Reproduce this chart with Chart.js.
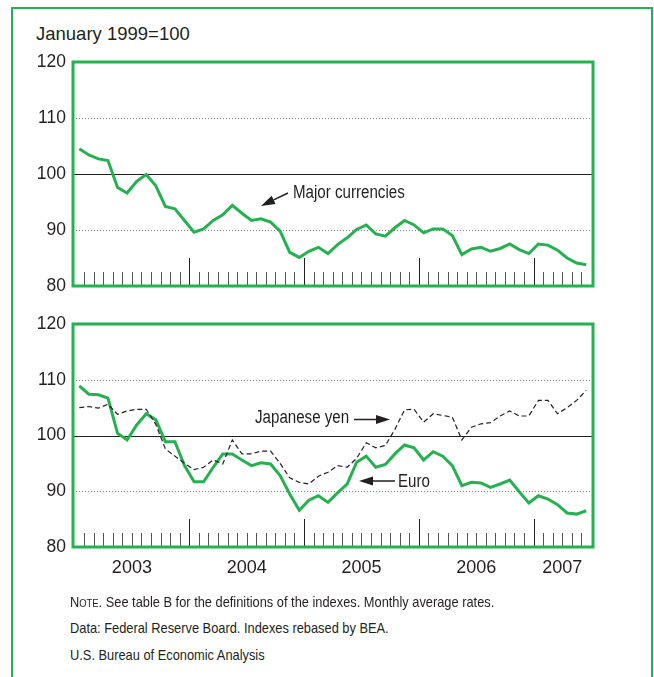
<!DOCTYPE html>
<html>
<head>
<meta charset="utf-8">
<script src="https://cdn.jsdelivr.net/npm/chart.js@4.4.0/dist/chart.umd.min.js"></script>
<style>
  html, body { margin: 0; padding: 0; background: #fff; }
  #page { position: relative; width: 654px; height: 677px; overflow: hidden; font-family: "Liberation Sans", Arial, sans-serif; color: #231f20; }
  #frame { position: absolute; left: 11px; top: 7px; width: 638px; height: 700px; border: 2px solid #25b150; border-bottom: none; }
  #title { position: absolute; left: 36px; top: 25px; font-size: 18.5px; line-height: 18px; white-space: nowrap; }
  .note { position: absolute; left: 70px; font-size: 15px; line-height: 15px; white-space: nowrap; transform: scaleX(0.855); transform-origin: 0 0; }
  .sc { font-variant: small-caps; }
  canvas { position: absolute; left: 0; }
</style>
</head>
<body>
<div id="page">
  <div id="frame"></div>
  <div id="title">January 1999=100</div>
  <canvas id="topChart" width="654" height="266" style="top:40px"></canvas>
  <canvas id="bottomChart" width="654" height="290" style="top:300px"></canvas>
  <div class="note" style="top:594px"><span class="sc">Note</span>. See table B for the definitions of the indexes. Monthly average rates.</div>
  <div class="note" style="top:620px">Data: Federal Reserve Board. Indexes rebased by BEA.</div>
  <div class="note" style="top:647px">U.S. Bureau of Economic Analysis</div>
</div>
<script>
// monthly averages, January 1999=100
const months = [
  'Jan 2003','Feb 2003','Mar 2003','Apr 2003','May 2003','Jun 2003','Jul 2003','Aug 2003','Sep 2003','Oct 2003','Nov 2003','Dec 2003',
  'Jan 2004','Feb 2004','Mar 2004','Apr 2004','May 2004','Jun 2004','Jul 2004','Aug 2004','Sep 2004','Oct 2004','Nov 2004','Dec 2004',
  'Jan 2005','Feb 2005','Mar 2005','Apr 2005','May 2005','Jun 2005','Jul 2005','Aug 2005','Sep 2005','Oct 2005','Nov 2005','Dec 2005',
  'Jan 2006','Feb 2006','Mar 2006','Apr 2006','May 2006','Jun 2006','Jul 2006','Aug 2006','Sep 2006','Oct 2006','Nov 2006','Dec 2006',
  'Jan 2007','Feb 2007','Mar 2007','Apr 2007','May 2007','Jun 2007'
];
const majorCurrencies = [
  104.5, 103.4, 102.7, 102.4, 97.6, 96.6, 98.7, 99.9, 97.9, 94.2, 93.8, 91.7,
  89.6, 90.2, 91.7, 92.7, 94.4, 93.0, 91.7, 92.0, 91.4, 89.8, 86.0, 85.1,
  86.2, 86.9, 85.8, 87.4, 88.6, 90.1, 90.9, 89.3, 88.9, 90.4, 91.7, 90.9,
  89.5, 90.2, 90.2, 89.0, 85.6, 86.6, 86.9, 86.2, 86.7, 87.5, 86.5, 85.8,
  87.5, 87.3, 86.4, 85.0, 84.1, 83.8
];
const euro = [
  108.9, 107.4, 107.3, 106.7, 100.4, 99.2, 101.9, 103.9, 102.8, 98.9, 98.9, 94.6,
  91.7, 91.7, 94.3, 96.7, 96.7, 95.6, 94.6, 95.1, 94.9, 92.8, 89.5, 86.6,
  88.4, 89.2, 88.0, 89.7, 91.3, 95.2, 96.3, 94.3, 94.8, 96.7, 98.3, 97.8,
  95.6, 97.1, 96.3, 94.6, 91.0, 91.6, 91.5, 90.7, 91.3, 92.0, 89.9, 87.9,
  89.2, 88.6, 87.6, 86.1, 85.9, 86.5
];
const japaneseYen = [
  105.0, 105.2, 104.9, 105.6, 103.8, 104.4, 104.7, 104.7, 102.0, 97.6, 96.3, 95.0,
  93.9, 94.3, 95.6, 94.9, 99.2, 96.7, 96.7, 97.2, 97.2, 95.0, 92.4, 91.6,
  91.3, 92.7, 93.4, 94.6, 94.3, 95.9, 98.7, 97.8, 98.2, 101.1, 104.6, 104.7,
  102.4, 103.9, 103.6, 103.3, 99.2, 101.5, 102.1, 102.3, 103.5, 104.4, 103.5, 103.5,
  106.3, 106.3, 103.9, 105.0, 106.3, 108.1
];
const yTicks = [80, 90, 100, 110, 120];
const dottedLevels = [90, 110];
const baseLevel = 100;

const GREEN = '#25b150';
const INK = '#231f20';
const REGULAR = '"Liberation Sans", Arial, sans-serif';

Chart.defaults.font.family = REGULAR;
Chart.defaults.color = INK;

function arrow(ctx, x1, y1, x2, y2) {
    const ang = Math.atan2(y2 - y1, x2 - x1);
    const len = 14, half = 4.5;
    const bx = x2 - Math.cos(ang) * len, by = y2 - Math.sin(ang) * len;
    ctx.lineWidth = 1.5;
    ctx.beginPath();
    ctx.moveTo(x1, y1);
    ctx.lineTo(bx, by);
    ctx.stroke();
    ctx.beginPath();
    ctx.moveTo(x2, y2);
    ctx.lineTo(bx - Math.sin(ang) * half, by + Math.cos(ang) * half);
    ctx.lineTo(bx + Math.sin(ang) * half, by - Math.cos(ang) * half);
    ctx.closePath();
    ctx.fill();
}

// reference lines, month ticks, green plot frame, year labels and callouts
const panelDecor = {
    id: 'panelDecor',
    beforeDatasetsDraw(chart) {
        const { ctx, chartArea: a, scales: { x, y } } = chart;
        ctx.save();
        ctx.lineWidth = 1;
        ctx.strokeStyle = '#808080';
        ctx.setLineDash([1, 2]);
        dottedLevels.forEach(v => {
            const py = Math.round(y.getPixelForValue(v)) + 0.5;
            ctx.beginPath();
            ctx.moveTo(a.left - 1.5, py);
            ctx.lineTo(a.right + 2, py);
            ctx.stroke();
        });
        ctx.setLineDash([]);
        ctx.strokeStyle = INK;
        const pb = Math.round(y.getPixelForValue(baseLevel)) + 0.5;
        ctx.beginPath();
        ctx.moveTo(a.left - 1.5, pb);
        ctx.lineTo(a.right + 2, pb);
        ctx.stroke();

        for (let i = 1; i < months.length; i++) {
            const bx = Math.round((x.getPixelForValue(i - 1) + x.getPixelForValue(i)) / 2) + 0.5;
            const isYear = months[i].startsWith('Jan');
            ctx.strokeStyle = isYear ? INK : '#555';
            ctx.beginPath();
            ctx.moveTo(bx, a.bottom);
            ctx.lineTo(bx, a.bottom - (isYear ? 28 : 14));
            ctx.stroke();
        }
        ctx.restore();
    },
    afterDatasetsDraw(chart, args, opts) {
        const { ctx, chartArea: a, scales: { x } } = chart;
        ctx.save();
        ctx.strokeStyle = GREEN;
        ctx.lineWidth = 3;
        ctx.strokeRect(a.left - 1.5, a.top, a.width + 3.5, a.height);

        if (opts.years) {
            ctx.font = '18px ' + REGULAR;
            ctx.fillStyle = INK;
            ctx.textAlign = 'center';
            ctx.textBaseline = 'alphabetic';
            const years = [...new Set(months.map(m => m.slice(4)))];
            years.forEach(yr => {
                const idx = months.map((m, i) => m.endsWith(yr) ? i : -1).filter(i => i >= 0);
                const cx = (x.getPixelForValue(idx[0]) + x.getPixelForValue(idx[idx.length - 1])) / 2;
                ctx.fillText(yr, cx, a.bottom + 26);
            });
        }

        (opts.callouts || []).forEach(c => {
            ctx.fillStyle = INK;
            ctx.strokeStyle = INK;
            // condensed face is not installed, so squeeze the regular one
            ctx.save();
            ctx.font = '18px ' + REGULAR;
            ctx.textAlign = 'left';
            ctx.textBaseline = 'alphabetic';
            ctx.translate(c.tx, c.ty);
            ctx.scale(0.84, 1);
            ctx.fillText(c.text, 0, 0);
            ctx.restore();
            arrow(ctx, c.from[0], c.from[1], c.to[0], c.to[1]);
        });
        ctx.restore();
    }
};

function makePanel(canvasId, datasets, padding, decorOpts) {
    return new Chart(document.getElementById(canvasId), {
        type: 'line',
        data: { labels: months, datasets: datasets },
        plugins: [panelDecor],
        options: {
            responsive: false,
            animation: false,
            layout: { padding: padding },
            plugins: {
                legend: { display: false },
                tooltip: { enabled: false },
                panelDecor: decorOpts
            },
            elements: { point: { radius: 0 }, line: { tension: 0 } },
            scales: {
                x: { type: 'category', offset: true, display: false, grid: { display: false } },
                y: {
                    min: yTicks[0],
                    max: yTicks[yTicks.length - 1],
                    afterBuildTicks: s => { s.ticks = yTicks.map(v => ({ value: v })); },
                    afterFit: s => { s.width = 74.5; },
                    grid: { display: false, drawTicks: false },
                    border: { display: false },
                    ticks: { padding: 8.5, color: INK, font: { size: 17.5 } }
                }
            }
        }
    });
}

makePanel('topChart', [
    { label: 'Major currencies', data: majorCurrencies, borderColor: GREEN, borderWidth: 3 }
], { top: 22, bottom: 20, left: 0, right: 63 }, {
    callouts: [
        { text: 'Major currencies', tx: 293, ty: 158, from: [288, 153], to: [261, 166] }
    ]
});

makePanel('bottomChart', [
    { label: 'Japanese yen', data: japaneseYen, borderColor: INK, borderWidth: 1.2, borderDash: [5, 3] },
    { label: 'Euro', data: euro, borderColor: GREEN, borderWidth: 3 }
], { top: 24, bottom: 43, left: 0, right: 63 }, {
    years: true,
    callouts: [
        { text: 'Japanese yen', tx: 255, ty: 123, from: [354, 119.5], to: [390, 119.5] },
        { text: 'Euro', tx: 398, ty: 187, from: [395, 181], to: [359, 181] }
    ]
});
</script>
</body>
</html>
